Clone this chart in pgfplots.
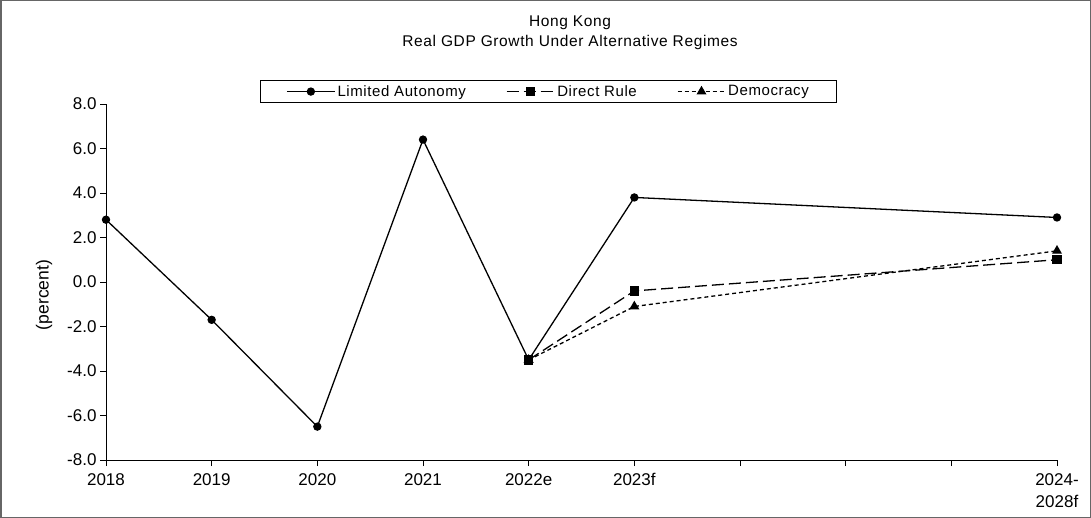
\documentclass[border=0pt]{standalone}
\usepackage{fontspec}
\setmainfont{Liberation Sans}
\newfontfamily\spaced[LetterSpace=4]{Liberation Sans}
\usepackage{pgfplots}
\pgfplotsset{compat=1.18}
\begin{document}
\begin{tikzpicture}[x=1pt,y=1pt]
\draw[gray!80!black, line width=1.5pt] (0.75,-0.75) rectangle (1090.25,-517.25);
\node[font=\fontsize{15.5}{20}\spaced, align=center] at (570,-33) {Hong Kong\\Real GDP Growth Under Alternative Regimes};
\node[font=\fontsize{17.5}{20}\selectfont, rotate=90] at (44,-295) {(percent)};
\begin{axis}[
  at={(106pt,-460pt)}, anchor=south west,
  scale only axis, width=951pt, height=356pt,
  xmin=0, xmax=9, ymin=-8, ymax=8,
  clip=false,
  axis lines=left, axis line style={-, line width=0.8pt},
  tick align=outside, major tick length=6pt,
  tick style={black, line width=0.8pt},
  xtick={0,1,2,3,4,5,6,7,8,9},
  xticklabels={2018,2019,2020,2021,2022e,2023f,,,,{2024-\\2028f}},
  xticklabel style={align=center, font=\fontsize{17}{22}\selectfont, yshift=-4pt},
  ytick={-8,-6,-4,-2,0,2,4,6,8},
  yticklabel style={font=\fontsize{17}{19}\selectfont},
  /pgf/number format/.cd, fixed, fixed zerofill, precision=1, assume math mode=true,
  /pgfplots/.cd,
  legend columns=3,
  legend image code/.code={\draw[mark repeat=2,mark phase=2,#1] plot coordinates {(0pt,0pt) (24pt,0pt) (48pt,0pt)};},
  legend style={at={(rel axis cs:0.4653,1.0674)}, anchor=north, draw=black, line width=0.8pt,
    font=\fontsize{15}{17}\spaced, inner xsep=26pt, inner ysep=3pt,
    /tikz/every even column/.append style={column sep=38pt}},
]
\addlegendimage{black, line width=1.3pt, mark=*, mark size=3.5pt}
\addlegendentry{Limited Autonomy}
\addlegendimage{black, line width=1.3pt, dash pattern=on 12pt off 5pt, mark=square*, mark size=4pt, mark options={solid}}
\addlegendentry{Direct Rule}
\addlegendimage{black, line width=1.3pt, dash pattern=on 4pt off 3pt, mark=triangle*, mark size=4.5pt, mark options={solid}}
\addlegendentry{Democracy}
\addplot[black, line width=1.3pt, mark=*, mark size=3.5pt, forget plot] coordinates {(0,2.8)(1,-1.7)(2,-6.5)(3,6.4)(4,-3.5)(5,3.8)(9,2.9)};
\addplot[black, line width=1.3pt, dash pattern=on 4pt off 3pt, mark=triangle*, mark size=4.5pt, mark options={solid}, forget plot] coordinates {(4,-3.5)(5,-1.1)(9,1.4)};
\addplot[black, line width=1.3pt, dash pattern=on 12pt off 5pt, mark=square*, mark size=4pt, mark options={solid}, forget plot] coordinates {(4,-3.5)(5,-0.4)(9,1.0)};
\end{axis}
\end{tikzpicture}
\end{document}
